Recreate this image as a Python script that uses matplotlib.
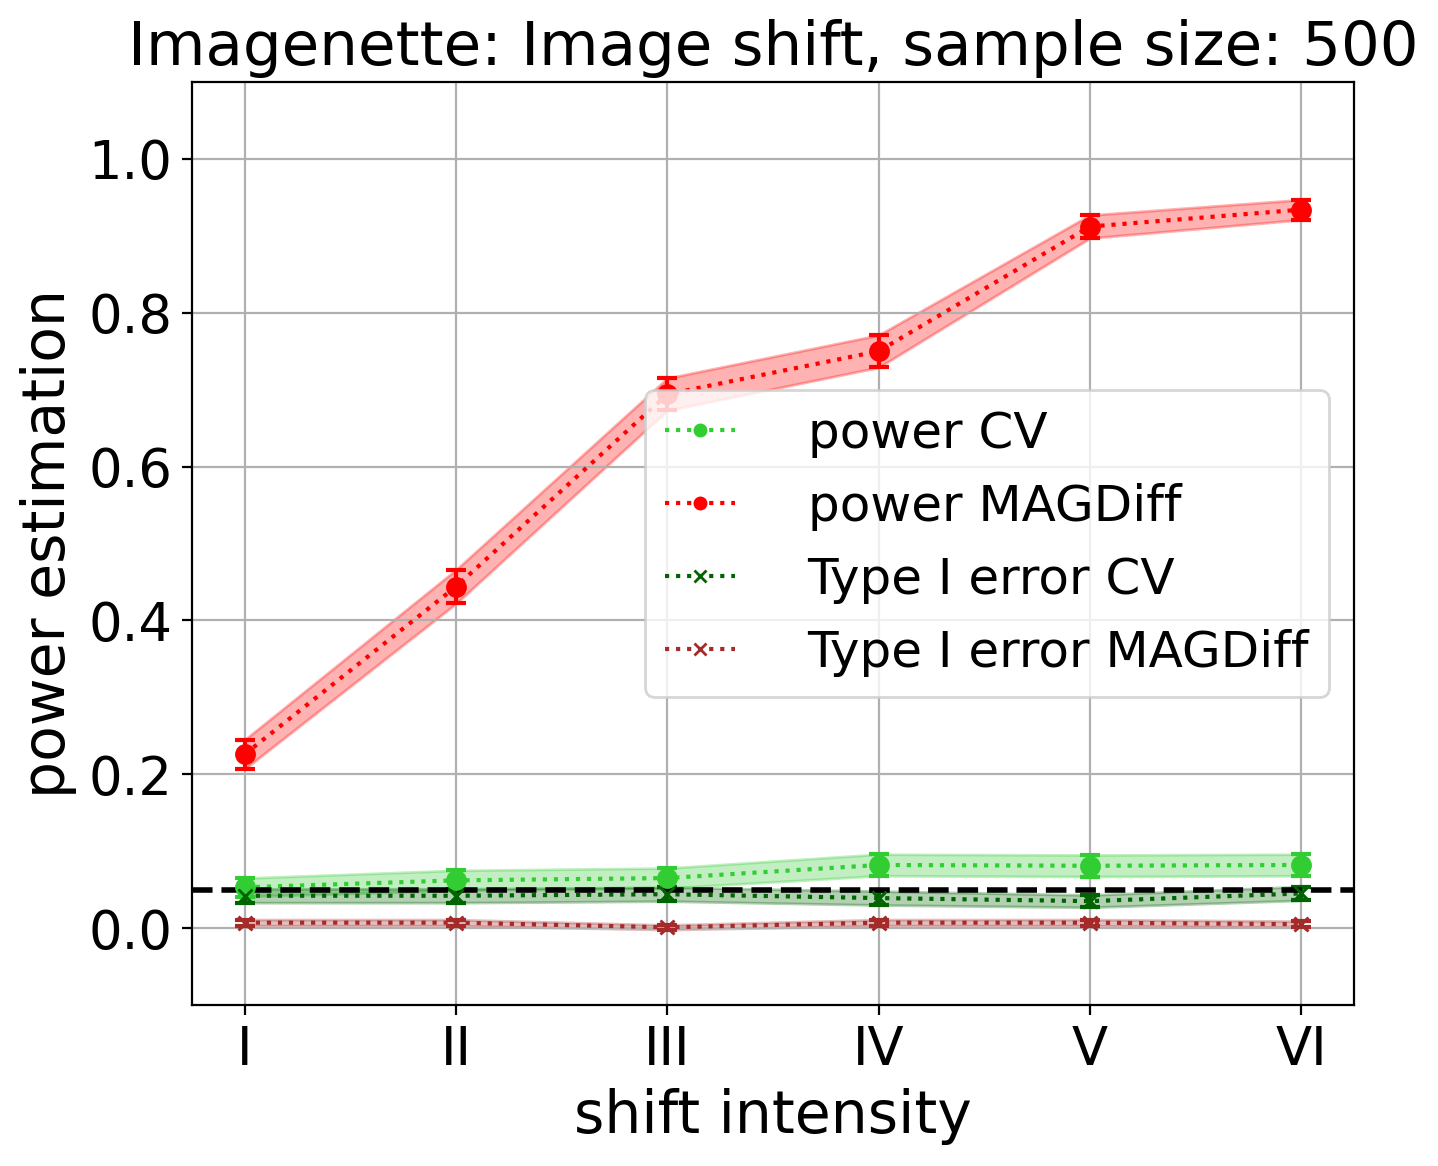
import matplotlib
matplotlib.use('Agg')
import matplotlib.pyplot as plt
import numpy as np

# values
intensities = ['I', 'II', 'III', 'IV', 'V', 'VI']

power_cv = [0.053, 0.062, 0.065, 0.082, 0.081, 0.082]
power_cv_err = [0.012, 0.013, 0.013, 0.014, 0.014, 0.014]

power_magdiff = [0.226, 0.444, 0.694, 0.750, 0.912, 0.934]
power_magdiff_err = [0.019, 0.022, 0.021, 0.021, 0.015, 0.013]

type1_cv = [0.042, 0.042, 0.044, 0.039, 0.035, 0.045]
type1_cv_err = [0.009, 0.009, 0.009, 0.009, 0.008, 0.009]

type1_magdiff = [0.007, 0.007, 0.001, 0.007, 0.007, 0.005]
type1_magdiff_err = [0.004, 0.004, 0.003, 0.004, 0.004, 0.004]

alpha_level = 0.05

series = [
    ('power CV', power_cv, power_cv_err, 'limegreen', 'o', '.'),
    ('power MAGDiff', power_magdiff, power_magdiff_err, 'red', 'o', '.'),
    ('Type I error CV', type1_cv, type1_cv_err, 'darkgreen', 'x', 'x'),
    ('Type I error MAGDiff', type1_magdiff, type1_magdiff_err, 'brown', 'x', 'x'),
]

fig = plt.figure(figsize=(7.19, 5.83), dpi=200)
ax = fig.add_axes([0.1335, 0.1381, 0.8081, 0.7916])

x = np.arange(len(intensities))
for label, vals, errs, color, mk, legmk in series:
    vals = np.array(vals)
    errs = np.array(errs)
    ax.fill_between(x, vals - errs, vals + errs, color=color, alpha=0.3)
    ax.errorbar(x, vals, yerr=errs, fmt=mk, color=color, ms=6.5 if mk == 'o' else 5,
                capsize=3.5, elinewidth=1.5, capthick=1.5)
    ax.plot(x, vals, ':', color=color, marker=legmk, ms=8 if legmk == '.' else 4,
            lw=1.5, label=label)

ax.axhline(alpha_level, color='black', linestyle='--', lw=2)

ax.set_xticks(x)
ax.set_xticklabels(intensities)
ax.set_ylim(-0.1, 1.1)
ax.set_xlim(-0.25, 5.25)
ax.grid(True)
ax.tick_params(labelsize=19)
ax.set_xlabel('shift intensity', fontsize=21)
ax.set_ylabel('power estimation', fontsize=21)
ax.set_title('Imagenette: Image shift, sample size: 500', fontsize=22)
ax.legend(loc='center right', fontsize=18, handlelength=1.4, handletextpad=1.45,
          labelspacing=0.5)

fig.savefig('out.png', dpi=200)
